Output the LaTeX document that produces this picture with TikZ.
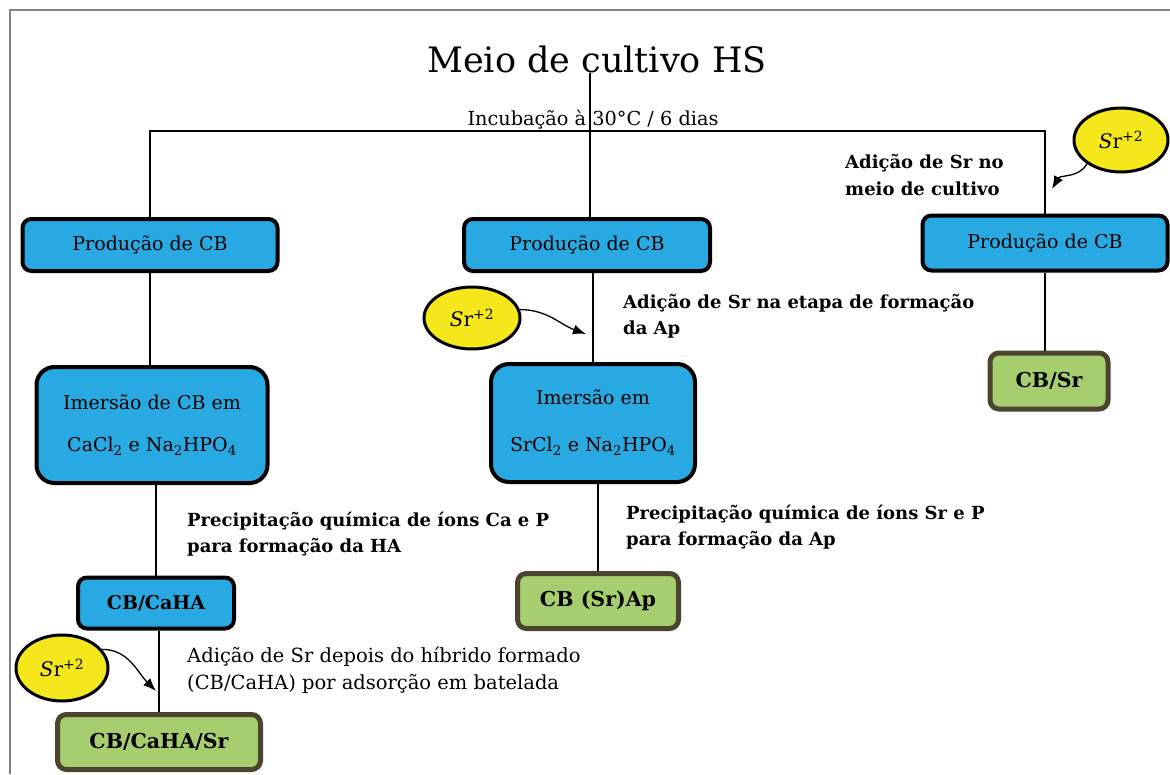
\documentclass[tikz,border=0pt]{standalone}
\usepackage{fontspec}
\setmainfont{DejaVu Serif}
\usetikzlibrary{shapes.geometric,arrows.meta}

\definecolor{cbblue}{RGB}{41,169,225}
\definecolor{cbgreen}{RGB}{166,206,110}
\definecolor{cbolive}{RGB}{75,69,48}
\definecolor{sryellow}{RGB}{244,232,28}
\definecolor{framegray}{RGB}{128,128,128}

\tikzset{
  bluebox/.style={draw=black, line width=4pt, fill=cbblue, rounded corners=9pt,
    inner sep=0pt, align=center, font=\fontsize{19}{23}\selectfont},
  greenbox/.style={draw=cbolive, line width=5pt, fill=cbgreen, rounded corners=9pt,
    inner sep=0pt, font=\bfseries\fontsize{20.5}{24}\selectfont},
  srion/.style={draw=black, ellipse, line width=3pt, fill=sryellow, inner sep=0pt,
    font=\fontsize{20}{24}\selectfont},
  note/.style={anchor=west, align=left, inner sep=0pt, font=\bfseries\fontsize{18}{26.5}\selectfont},
  tree/.style={line width=1.2pt},
  sra/.style={draw, line width=1.3pt, ->, >={Latex[length=13pt,width=10pt]}}
}

\begin{document}
\begin{tikzpicture}[x=1pt,y=-1pt]
\useasboundingbox (0,0) rectangle (1170,774);
\draw[framegray, line width=2pt] (1170,10) -- (10,10) -- (10,774);

\node[font=\fontsize{35}{40}\selectfont, inner sep=0pt] (title) at (597,59) {Meio de cultivo HS};

% first level
\node[bluebox, minimum width=255pt, minimum height=52pt] (L1) at (150,245) {Produção de CB};
\node[bluebox, minimum width=246pt, minimum height=52pt] (M1) at (587,245) {Produção de CB};
\node[bluebox, minimum width=245pt, minimum height=55pt] (R1) at (1045,243) {Produção de CB};

% left branch
\node[bluebox, rounded corners=18pt, minimum width=231pt, minimum height=116pt] (L2) at (152,425)
  {Imersão de CB em\\[19pt]CaCl\textsubscript{2} e Na\textsubscript{2}HPO\textsubscript{4}};
\node[bluebox, font=\bfseries\fontsize{19}{23}\selectfont, minimum width=156pt, minimum height=51pt] (L3) at (156,603) {CB/CaHA};
\node[greenbox, minimum width=203pt, minimum height=55pt] (L4) at (159,742) {CB/CaHA/Sr};
\node[srion, minimum width=92pt, minimum height=66pt] (SrL) at (62,668) {{\itshape S}r\textsuperscript{+2}};

% middle branch
\node[bluebox, rounded corners=18pt, minimum width=204pt, minimum height=118pt] (M2) at (593,423)
  {Imersão em\\[24pt]SrCl\textsubscript{2} e Na\textsubscript{2}HPO\textsubscript{4}};
\node[greenbox, minimum width=161pt, minimum height=55pt] (M3) at (598,601) {CB (Sr)Ap};
\node[srion, minimum width=96pt, minimum height=62pt] (SrM) at (472,318) {{\itshape S}r\textsuperscript{+2}};

% right branch
\node[greenbox, minimum width=118pt, minimum height=56pt] (R2) at (1049,381) {CB/Sr};
\node[srion, minimum width=94pt, minimum height=64pt] (SrR) at (1121,140) {{\itshape S}r\textsuperscript{+2}};

% tree lines
\coordinate (jt) at (590,131);
\draw[tree] (jt |- title.south) -- (jt |- M1.north);
\draw[tree] (L1.north) |- (jt) -| (R1.north);
\draw[tree] (L1.south) -- (L1.south |- L2.north);
\draw[tree] (L3.north |- L2.south) -- (L3.north);
\draw[tree] (L4.north |- L3.south) -- (L4.north);
\draw[tree] (M2.north |- M1.south) -- (M2.north);
\draw[tree] (M3.north |- M2.south) -- (M3.north);
\draw[tree] (R1.south) -- (R1.south |- R2.north);

\node[font=\fontsize{19.3}{23}\selectfont, inner sep=0pt] (incub) at (593,120) {Incubação à 30°C / 6 dias};

% Sr additions
\coordinate (aL) at (156,691);
\coordinate (aM) at (586,334);
\coordinate (aR) at (1052,189);
\path[sra] (SrL.25) to[out=0,in=135] (aL);
\path[sra] (SrM.10) to[out=0,in=160] (aM);
\path[sra] (SrR.215) to[out=240,in=60] (aR);

% step notes
\node[note] (nR) at (845,175) {Adição de Sr no\\meio de cultivo};
\node[note] (nM) at (623,316) {Adição de Sr na etapa de formação\\da Ap};
\node[note] (nL) at (187,534) {Precipitação química de íons Ca e P\\para formação da HA};
\node[note] (nM2) at (626,527) {Precipitação química de íons Sr e P\\para formação da Ap};
\node[note, font=\fontsize{19.5}{27}\selectfont] (nL2) at (187,670) {Adição de Sr depois do híbrido formado\\(CB/CaHA) por adsorção em batelada};
\end{tikzpicture}
\end{document}
